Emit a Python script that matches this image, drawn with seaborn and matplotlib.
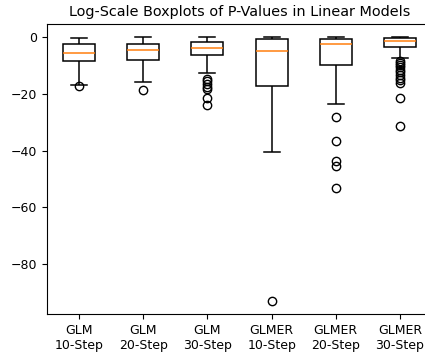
import matplotlib
matplotlib.use("Agg")
import matplotlib.pyplot as plt
import seaborn as sns
import pandas as pd

# log p-values per model / horizon
glm_10 = [-17.3, -17.0, -8.4, -7.0, -5.6, -4.0, -2.56, -1.2, -0.3]
glm_20 = [-18.5, -15.9, -8.2, -6.5, -4.7, -3.5, -2.56, -1.0, 0.0]
glm_30 = [-24.0, -21.6, -18.2, -17.5, -16.5, -15.6, -14.8, -12.5,
          -6.4, -6.0, -5.6, -5.2, -4.9, -4.5, -4.2, -3.9,
          -3.7, -3.4, -3.1, -2.8, -2.6, -2.3, -2.1, -1.95,
          -1.86, -1.6, -1.3, -1.0, -0.8, -0.5, -0.3, -0.1, 0.0]
glmer_10 = [-93.0, -40.5, -17.1, -10.0, -4.8, -2.0, -0.8, -0.3, 0.0]
glmer_20 = [-53.1, -45.3, -43.7, -36.7, -28.3, -23.6,
            -10.0, -8.0, -6.5, -5.0, -4.0, -3.2,
            -2.5, -2.0, -1.6, -1.3, -1.0, -0.8,
            -0.6, -0.45, -0.3, -0.2, -0.1, -0.05, 0.0]
glmer_30 = [-31.3, -21.3, -16.3, -15.3, -14.3, -13.3, -12.4, -11.5, -10.6,
            -9.8, -9.0, -8.3, -7.5,
            -3.5, -3.3, -3.1, -2.9, -2.7, -2.5, -2.3, -2.2, -2.0, -1.9, -1.8, -1.7, -1.6,
            -1.5, -1.4, -1.3, -1.2, -1.1, -1.0, -0.9, -0.8, -0.75, -0.7, -0.6, -0.55, -0.5,
            -0.46, -0.42, -0.38, -0.34, -0.3, -0.26, -0.22, -0.18, -0.14, -0.1, -0.07,
            -0.04, -0.02, 0.0]

labels = ["GLM\n10-Step", "GLM\n20-Step", "GLM\n30-Step",
          "GLMER\n10-Step", "GLMER\n20-Step", "GLMER\n30-Step"]
series = [glm_10, glm_20, glm_30, glmer_10, glmer_20, glmer_30]

df = pd.DataFrame({
    "model": [lab for lab, vals in zip(labels, series) for _ in vals],
    "logp": [v for vals in series for v in vals],
})

fig = plt.figure(figsize=(4.25, 3.52), dpi=100)
ax = fig.add_axes([0.1106, 0.108, 0.906, 0.824])

sns.boxplot(data=df, x="model", y="logp", order=labels, ax=ax,
            color="white", linecolor="black", linewidth=1.1, width=0.5,
            medianprops=dict(color="#ff7f0e", linewidth=1.1),
            flierprops=dict(marker="o", markerfacecolor="none",
                            markeredgecolor="black", markersize=6))

ax.set_xlabel("")
ax.set_ylabel("")
ax.set_yticks([0, -20, -40, -60, -80])
ax.tick_params(labelsize=9)
ax.set_title("Log-Scale Boxplots of P-Values in Linear Models", fontsize=10.4)

fig.savefig("out.png", dpi=100)
